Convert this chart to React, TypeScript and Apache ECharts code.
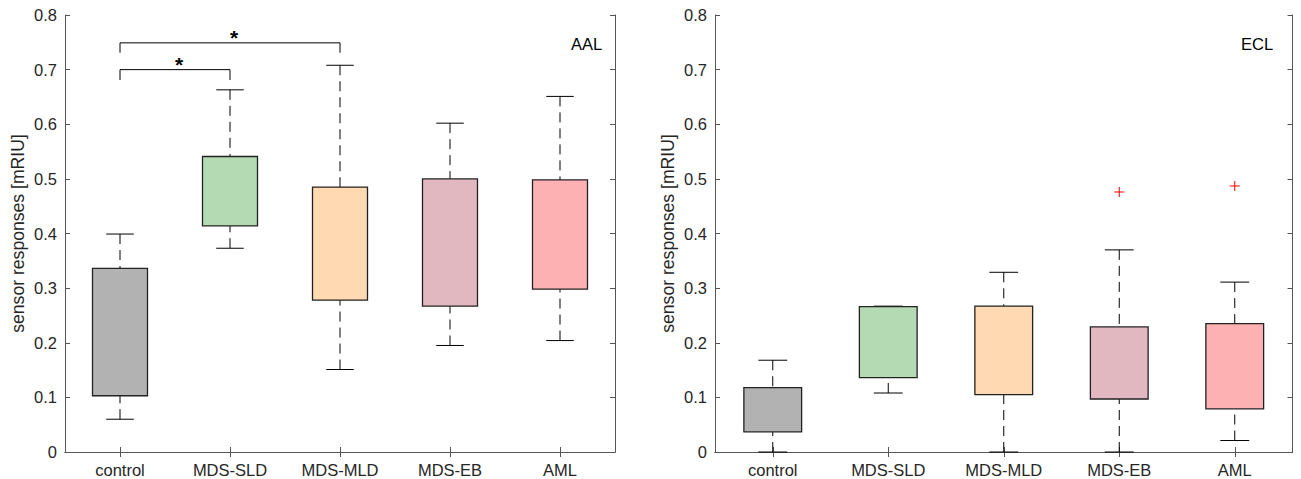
import React, { useEffect, useRef } from "react";
import * as echarts from "echarts";

const categories = ["control", "MDS-SLD", "MDS-MLD", "MDS-EB", "AML"];
const boxColors = ["#b2b2b2", "#b3dab3", "#fed9b1", "#e2b8c0", "#feb1b2"];

// AAL panel
const aalLow = [0.06, 0.373, 0.151, 0.195, 0.204];
const aalQ1 = [0.103, 0.414, 0.278, 0.267, 0.298];
const aalQ3 = [0.336, 0.541, 0.485, 0.5, 0.498];
const aalHigh = [0.399, 0.663, 0.708, 0.602, 0.651];

// ECL panel
const eclLow = [0, 0.108, 0, 0, 0.021];
const eclQ1 = [0.037, 0.136, 0.105, 0.097, 0.079];
const eclQ3 = [0.118, 0.266, 0.267, 0.229, 0.235];
const eclHigh = [0.168, 0.267, 0.329, 0.37, 0.311];
const eclOutlierCat = [3, 4];
const eclOutlierVal = [0.476, 0.487];

// significance brackets (AAL)
const sigFrom = [0, 0];
const sigTo = [1, 2];
const sigTop = [0.7, 0.749];
const sigLeg = [0.681, 0.731];
const sigLabel = ["*", "*"];

const yTicks = { min: 0, max: 0.8, interval: 0.1 };
const FONT = "'Liberation Sans', Arial, Helvetica, sans-serif";
const AXIS_COLOR = "#555555";
const TEXT_COLOR = "#262626";

function boxData(low: number[], q1: number[], q3: number[], high: number[]) {
  return categories.map((_, i) => [i, low[i], q1[i], q3[i], high[i]]);
}

const renderBox = (params: any, api: any) => {
  const i = api.value(0);
  const pLow = api.coord([i, api.value(1)]);
  const pQ1 = api.coord([i, api.value(2)]);
  const pQ3 = api.coord([i, api.value(3)]);
  const pHigh = api.coord([i, api.value(4)]);
  const band = api.size([1, 0])[0];
  const cx = pQ1[0];
  const boxW = band * 0.5;
  const capW = band * 0.25;
  const dash = { stroke: "#000", lineWidth: 1, lineDash: [10, 6] };
  const solid = { stroke: "#000", lineWidth: 1 };
  return {
    type: "group",
    children: [
      { type: "line", shape: { x1: cx, y1: pHigh[1], x2: cx, y2: pQ3[1] }, style: dash },
      { type: "line", shape: { x1: cx, y1: pLow[1], x2: cx, y2: pQ1[1] }, style: dash },
      { type: "line", shape: { x1: cx - capW / 2, y1: pHigh[1], x2: cx + capW / 2, y2: pHigh[1] }, style: solid },
      { type: "line", shape: { x1: cx - capW / 2, y1: pLow[1], x2: cx + capW / 2, y2: pLow[1] }, style: solid },
      {
        type: "rect",
        shape: { x: cx - boxW / 2, y: pQ3[1], width: boxW, height: pQ1[1] - pQ3[1] },
        style: { fill: boxColors[i], stroke: "#222", lineWidth: 1.3 },
      },
    ],
  };
};

const renderOutlier = (params: any, api: any) => {
  const p = api.coord([api.value(0), api.value(1)]);
  const r = 5;
  const st = { stroke: "#ff0000", lineWidth: 1 };
  return {
    type: "group",
    children: [
      { type: "line", shape: { x1: p[0] - r, y1: p[1], x2: p[0] + r, y2: p[1] }, style: st },
      { type: "line", shape: { x1: p[0], y1: p[1] - r, x2: p[0], y2: p[1] + r }, style: st },
    ],
  };
};

const renderBracket = (params: any, api: any) => {
  const a = api.value(0);
  const b = api.value(1);
  const topA = api.coord([a, api.value(2)]);
  const topB = api.coord([b, api.value(2)]);
  const legA = api.coord([a, api.value(3)]);
  const legB = api.coord([b, api.value(3)]);
  const mid = (topA[0] + topB[0]) / 2;
  return {
    type: "group",
    children: [
      {
        type: "polyline",
        shape: { points: [legA, topA, topB, legB] },
        style: { stroke: "#000", lineWidth: 1, fill: null },
      },
      {
        type: "text",
        x: mid,
        y: topA[1] - 5,
        style: {
          text: sigLabel[params.dataIndex],
          fill: "#000",
          font: `bold 21px ${FONT}`,
          textAlign: "left",
          textVerticalAlign: "middle",
        },
      },
    ],
  };
};

function xAxes(gridIndex: number) {
  const base = {
    type: "category",
    data: categories,
    gridIndex,
    axisLine: { show: true, lineStyle: { color: AXIS_COLOR, width: 1 } },
    axisTick: { show: true, inside: true, alignWithLabel: true, length: 5, lineStyle: { color: AXIS_COLOR } },
    splitLine: { show: false },
  };
  return [
    {
      ...base,
      position: "bottom",
      axisLabel: { show: true, color: TEXT_COLOR, fontSize: 16.5, fontFamily: FONT, margin: 9, interval: 0 },
    },
    { ...base, position: "top", axisLabel: { show: false } },
  ];
}

function yAxes(gridIndex: number) {
  const base = {
    type: "value",
    gridIndex,
    ...yTicks,
    axisLine: { show: true, lineStyle: { color: AXIS_COLOR, width: 1 } },
    axisTick: { show: true, inside: true, length: 5, lineStyle: { color: AXIS_COLOR } },
    splitLine: { show: false },
  };
  return [
    {
      ...base,
      position: "left",
      name: "sensor responses [mRIU]",
      nameLocation: "middle",
      nameGap: 38,
      nameTextStyle: { color: TEXT_COLOR, fontSize: 17.6, fontFamily: FONT },
      axisLabel: { show: true, color: TEXT_COLOR, fontSize: 16.5, fontFamily: FONT, margin: 8 },
    },
    { ...base, position: "right", axisLabel: { show: false } },
  ];
}

export default function App() {
  const ref = useRef<HTMLDivElement>(null);
  useEffect(() => {
    if (!ref.current) return;
    const chart = echarts.init(ref.current, null, { renderer: "svg" });
    const xa0 = xAxes(0);
    const xa1 = xAxes(1);
    const ya0 = yAxes(0);
    const ya1 = yAxes(1);
    chart.setOption({
      animation: false,
      backgroundColor: "#ffffff",
      textStyle: { fontFamily: FONT },
      grid: [
        { left: 65, top: 15, width: 550, height: 437 },
        { left: 715, top: 15, width: 577.5, height: 437 },
      ],
      // order: 0 bottom L, 1 top L, 2 bottom R, 3 top R
      xAxis: [xa0[0], xa0[1], xa1[0], xa1[1]],
      yAxis: [ya0[0], ya0[1], ya1[0], ya1[1]],
      graphic: [
        {
          type: "text",
          x: 571,
          y: 44,
          style: { text: "AAL", fill: "#000", font: `16.5px ${FONT}`, textAlign: "left", textVerticalAlign: "middle" },
        },
        {
          type: "text",
          x: 1241,
          y: 44,
          style: { text: "ECL", fill: "#000", font: `16.5px ${FONT}`, textAlign: "left", textVerticalAlign: "middle" },
        },
      ],
      series: [
        {
          type: "custom",
          name: "AAL",
          xAxisIndex: 0,
          yAxisIndex: 0,
          renderItem: renderBox,
          encode: { x: 0, y: [1, 2, 3, 4] },
          data: boxData(aalLow, aalQ1, aalQ3, aalHigh),
          clip: false,
        },
        {
          type: "custom",
          name: "AAL significance",
          xAxisIndex: 0,
          yAxisIndex: 0,
          renderItem: renderBracket,
          encode: { x: [0, 1], y: [2, 3] },
          data: sigFrom.map((f, i) => [f, sigTo[i], sigTop[i], sigLeg[i]]),
          clip: false,
        },
        {
          type: "custom",
          name: "ECL",
          xAxisIndex: 2,
          yAxisIndex: 2,
          renderItem: renderBox,
          encode: { x: 0, y: [1, 2, 3, 4] },
          data: boxData(eclLow, eclQ1, eclQ3, eclHigh),
          clip: false,
        },
        {
          type: "custom",
          name: "ECL outliers",
          xAxisIndex: 2,
          yAxisIndex: 2,
          renderItem: renderOutlier,
          encode: { x: 0, y: 1 },
          data: eclOutlierCat.map((c, i) => [c, eclOutlierVal[i]]),
          clip: false,
        },
      ],
    });
    return () => chart.dispose();
  }, []);
  return (
    <div
      ref={ref}
      style={{ position: "fixed", left: 0, top: 0, width: 1301, height: 479, background: "#fff" }}
    />
  );
}
